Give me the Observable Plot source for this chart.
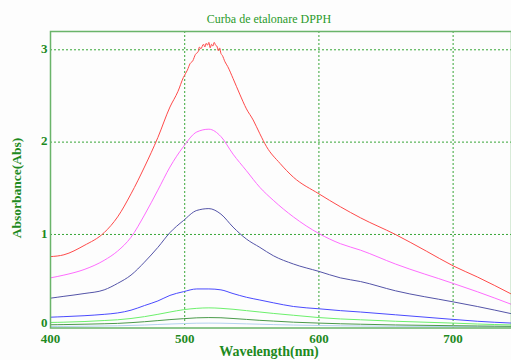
<!DOCTYPE html>
<html>
<head>
<meta charset="utf-8">
<script src="https://cdn.jsdelivr.net/npm/d3@7"></script>
<script src="https://cdn.jsdelivr.net/npm/@observablehq/plot@0.6"></script>
<style>
  body { margin: 0; background: #fdfdfd; }
  #wrap { position: relative; width: 511px; height: 360px; overflow: hidden; background: #fdfdfd; font-family: "Liberation Serif", "DejaVu Serif", serif; }
  #title { position: absolute; left: 0; width: 538px; top: 12px; text-align: center; font-size: 12px; color: #2a9a2a; }
  #xlabel { position: absolute; left: 0; width: 538px; top: 344px; text-align: center; font-size: 14px; font-weight: bold; color: #1e8a1e; }
  #ylabel { position: absolute; left: 17px; top: 188px; transform: translate(-50%, -50%) rotate(-90deg); white-space: nowrap; font-size: 13.5px; font-weight: bold; color: #1e8a1e; }
  #chart { position: absolute; left: 0; top: 26px; }
</style>
</head>
<body>
<div id="wrap">
  <div id="title">Curba de etalonare DPPH</div>
  <div id="chart"></div>
  <div id="xlabel">Wavelength(nm)</div>
  <div id="ylabel">Absorbance(Abs)</div>
</div>
<script>
// Tick labels
const xTicks = [400, 500, 600, 700];
const yTicks = [0, 1, 2, 3];

// Red (highest concentration) series, with its own wavelength grid
const redWavelength = [400,410,425,440,450,460,470,480,489,495,499,502,504,506,508,510,511,512,514,515,516,517,518,519,520,521,522,523,524,525,526,527,528,530,532,536,541,546,551,556,561,571,581,600,616,631,657,680,700,718,744];
const redAbs = [0.76,0.78,0.88,1.02,1.19,1.44,1.73,2.05,2.38,2.55,2.70,2.78,2.85,2.88,2.95,2.98,3.03,3.01,3.06,3.03,3.07,3.05,3.08,3.02,3.06,3.04,3.08,3.05,3.04,2.99,3.02,2.96,2.94,2.87,2.82,2.69,2.52,2.36,2.24,2.09,1.95,1.77,1.62,1.44,1.30,1.18,1.00,0.82,0.66,0.54,0.35];

// Common wavelength grid for the other series
const wavelength = [400,410,425,440,450,460,470,480,489,499,509,518,527,536,546,556,566,581,600,616,631,657,700,718,744];
const pinkAbs = [0.53,0.56,0.62,0.72,0.82,0.97,1.21,1.48,1.73,1.95,2.11,2.14,2.06,1.87,1.69,1.51,1.37,1.19,1.01,0.90,0.83,0.68,0.47,0.38,0.24];
const navyAbs = [0.31,0.33,0.36,0.40,0.47,0.56,0.70,0.86,1.02,1.15,1.26,1.28,1.22,1.08,0.95,0.86,0.77,0.68,0.60,0.53,0.49,0.39,0.27,0.22,0.14];
const blueAbs = [0.104,0.11,0.12,0.135,0.15,0.18,0.23,0.28,0.34,0.38,0.41,0.41,0.40,0.36,0.32,0.29,0.26,0.22,0.195,0.175,0.16,0.13,0.08,0.06,0.04];
const greenAbs = [0.047,0.05,0.057,0.068,0.076,0.09,0.11,0.135,0.16,0.185,0.20,0.205,0.20,0.19,0.175,0.16,0.145,0.125,0.10,0.085,0.076,0.06,0.04,0.03,0.02];
const darkGreenAbs = [0.022,0.024,0.028,0.033,0.037,0.045,0.055,0.067,0.078,0.088,0.097,0.10,0.098,0.09,0.08,0.07,0.062,0.05,0.04,0.033,0.028,0.02,0.012,0.009,0.005];
const lightBlueAbs = [0.003,0.004,0.006,0.009,0.011,0.015,0.019,0.025,0.03,0.035,0.039,0.04,0.039,0.036,0.032,0.028,0.024,0.019,0.014,0.011,0.009,0.006,0.003,0.002,0.001];

const series = [
  {values: lightBlueAbs, color: "#b4d2f0"},
  {values: darkGreenAbs, color: "#4a9a4a"},
  {values: greenAbs, color: "#6cf06c"},
  {values: blueAbs, color: "#4a4aff"},
  {values: navyAbs, color: "#5454a8"},
  {values: pinkAbs, color: "#ff6cff"}
];

const redRows = redWavelength.map((w, i) => ({w, a: redAbs[i]}));

const green = "#1e8a1e";
const gridColor = "#36a636";
const frameColor = "#6ab46a";
const tickText = {text: d => String(d), frameAnchor: "left", textAnchor: "end", dx: -3, fill: green, fontSize: 13, fontWeight: "bold"};

const chart = Plot.plot({
  width: 511,
  height: 334,
  marginTop: 5,
  marginLeft: 50,
  marginRight: 0,
  marginBottom: 32.5,
  style: {background: "transparent", fontFamily: "Liberation Serif, serif", fontSize: "13px", fontWeight: "bold", color: green},
  x: {domain: [400, 743.5], ticks: xTicks, tickSize: 0, tickPadding: 6, tickFormat: d => String(d), label: null},
  y: {domain: [-0.013, 3.198], axis: null},
  marks: [
    Plot.ruleX(xTicks.slice(1), {stroke: gridColor, strokeDasharray: "2,2", strokeWidth: 1}),
    Plot.ruleY(yTicks.slice(1), {stroke: gridColor, strokeDasharray: "2,2", strokeWidth: 1}),
    Plot.text(yTicks.slice(1), {...tickText, y: d => d, dy: -1}),
    Plot.text(yTicks.slice(0, 1), {...tickText, y: d => d, dy: -4}),
    ...series.map(s => Plot.line(wavelength.map((w, i) => ({w, a: s.values[i]})), {x: "w", y: "a", stroke: s.color, curve: "monotone-x", strokeWidth: 1})),
    Plot.line(redRows, {x: "w", y: "a", stroke: "#ff4a4a", curve: "monotone-x", strokeWidth: 1}),
    Plot.frame({stroke: frameColor, strokeWidth: 1.5})
  ]
});
document.getElementById("chart").appendChild(chart);
</script>
</body>
</html>
